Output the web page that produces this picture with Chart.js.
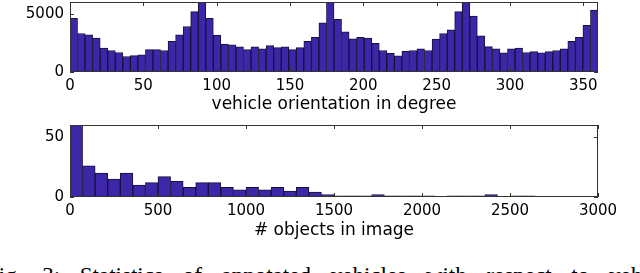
<!DOCTYPE html>
<html>
<head>
<meta charset="utf-8">
<script src="https://cdn.jsdelivr.net/npm/chart.js@4.4.0/dist/chart.umd.min.js"></script>
<style>
    html, body { margin: 0; padding: 0; background: #fff; }
    body { width: 640px; height: 273px; overflow: hidden; position: relative; }
    #orientChart { position: absolute; left: 0; top: 0; }
    #objectsChart { position: absolute; left: 0; top: 118px; }
    #caption {
        position: absolute; left: -14px; top: 264px;
        font: 23px/23px 'Liberation Serif', serif;
        word-spacing: 14px;
        white-space: nowrap; color: #000;
    }
</style>
</head>
<body>
<canvas id="orientChart" width="640" height="116"></canvas>
<canvas id="objectsChart" width="640" height="128"></canvas>
<div id="caption">Fig. 3: Statistics of annotated vehicles with respect to vehicle orientation and number of objects per image.</div>
<script>
// 车辆朝向直方图：0..360 度，70 个区间
const orientBinWidth = 360 / 70;
const orientCounts = [
    4600, 3300, 3190, 2900, 2060, 1840, 1670, 1330, 1410, 1470,
    1920, 1920, 1840, 2630, 3190, 3900, 5170, 6400, 4600, 3160,
    2400, 2320, 2150, 1920, 2150, 1980, 2260, 2090, 2150, 1920,
    2090, 2630, 2970, 4210, 6300, 4520, 3450, 2850, 2970, 2910,
    2460, 1840, 1610, 1380, 1780, 1840, 1980, 1840, 2820, 3300,
    3620, 5170, 6500, 4800, 3110, 2180, 1980, 1640, 1980, 2060,
    1670, 1750, 1640, 1750, 1840, 1980, 2630, 2970, 4010, 5310
];
const orientXTicks = [0, 50, 100, 150, 200, 250, 300, 350];
const orientYTicks = [0, 5000];

// 每张图像中的目标数量直方图
const objectsBinWidth = 3000 / 42;
const objectsCounts = [
    66, 26, 20, 15, 20, 10, 12, 17, 13, 8,
    12, 12, 8, 6, 8, 6, 8, 5, 8, 4,
    2, 1, 1, 1, 2, 1, 1, 1, 1, 0,
    1, 1, 1, 2, 0, 1, 1
];
const objectsXTicks = [0, 500, 1000, 1500, 2000, 2500, 3000];
const objectsYTicks = [0, 50];

Chart.defaults.font.family = "'DejaVu Sans', sans-serif";
Chart.defaults.color = '#000';

// 画坐标框和向内的刻度线（matlab 风格）
const framePlugin = {
    id: 'frame',
    afterDatasetsDraw(chart) {
        const { ctx, chartArea: a, scales } = chart;
        const len = 4;
        ctx.save();
        ctx.strokeStyle = '#333';
        ctx.lineWidth = 1;
        ctx.strokeRect(a.left + 0.5, a.top + 0.5, a.width - 1, a.height - 1);
        ctx.beginPath();
        scales.x.ticks.forEach(t => {
            const px = Math.round(scales.x.getPixelForValue(t.value)) + 0.5;
            ctx.moveTo(px, a.bottom); ctx.lineTo(px, a.bottom - len);
            ctx.moveTo(px, a.top); ctx.lineTo(px, a.top + len);
        });
        scales.y.ticks.forEach(t => {
            const py = Math.round(scales.y.getPixelForValue(t.value)) + 0.5;
            ctx.moveTo(a.left, py); ctx.lineTo(a.left + len, py);
            ctx.moveTo(a.right, py); ctx.lineTo(a.right - len, py);
        });
        ctx.stroke();
        ctx.restore();
    }
};

function makeHistogram(canvasId, binWidth, counts, xTicks, yTicks, xMax, yMax, title, padTop, axisHeight, titlePad) {
    const ctx = document.getElementById(canvasId).getContext('2d');
    return new Chart(ctx, {
        type: 'bar',
        data: {
            datasets: [{
                data: counts.map((c, i) => ({ x: (i + 0.5) * binWidth, y: c })),
                backgroundColor: '#3e26a8',
                borderColor: '#15123a',
                borderWidth: 1,
                borderSkipped: false,
                barPercentage: 1,
                categoryPercentage: 1,
                clip: 0
            }]
        },
        options: {
            responsive: false,
            animation: false,
            devicePixelRatio: 1,
            layout: { padding: { top: padTop, right: 42, bottom: 0, left: 0 } },
            plugins: { legend: { display: false }, tooltip: { enabled: false } },
            scales: {
                x: {
                    type: 'linear',
                    min: 0,
                    max: xMax,
                    offset: false,
                    grid: { display: false, drawTicks: false, offset: false },
                    border: { display: false },
                    afterBuildTicks: s => { s.ticks = xTicks.map(v => ({ value: v })); },
                    afterFit: s => { s.height = axisHeight; s.paddingLeft = 0; s.paddingRight = 0; },
                    ticks: {
                        padding: 5,
                        font: { size: 15 },
                        maxRotation: 0,
                        autoSkip: false,
                        callback: v => String(v)
                    },
                    title: {
                        display: true,
                        text: title,
                        font: { size: 17 },
                        padding: { top: 0, bottom: titlePad }
                    }
                },
                y: {
                    min: 0,
                    max: yMax,
                    grid: { display: false, drawTicks: false },
                    border: { display: false },
                    afterBuildTicks: s => { s.ticks = yTicks.map(v => ({ value: v })); },
                    afterFit: s => { s.width = 70; s.paddingTop = 0; s.paddingBottom = 0; },
                    ticks: {
                        padding: 6,
                        font: { size: 15 },
                        callback: v => String(v)
                    }
                }
            }
        },
        plugins: [framePlugin]
    });
}

makeHistogram('orientChart', orientBinWidth, orientCounts, orientXTicks, orientYTicks,
    360, 6000, 'vehicle orientation in degree', 2, 44, 1);
makeHistogram('objectsChart', objectsBinWidth, objectsCounts, objectsXTicks, objectsYTicks,
    3000, 60, '# objects in image', 7, 49, 5);
</script>
</body>
</html>
